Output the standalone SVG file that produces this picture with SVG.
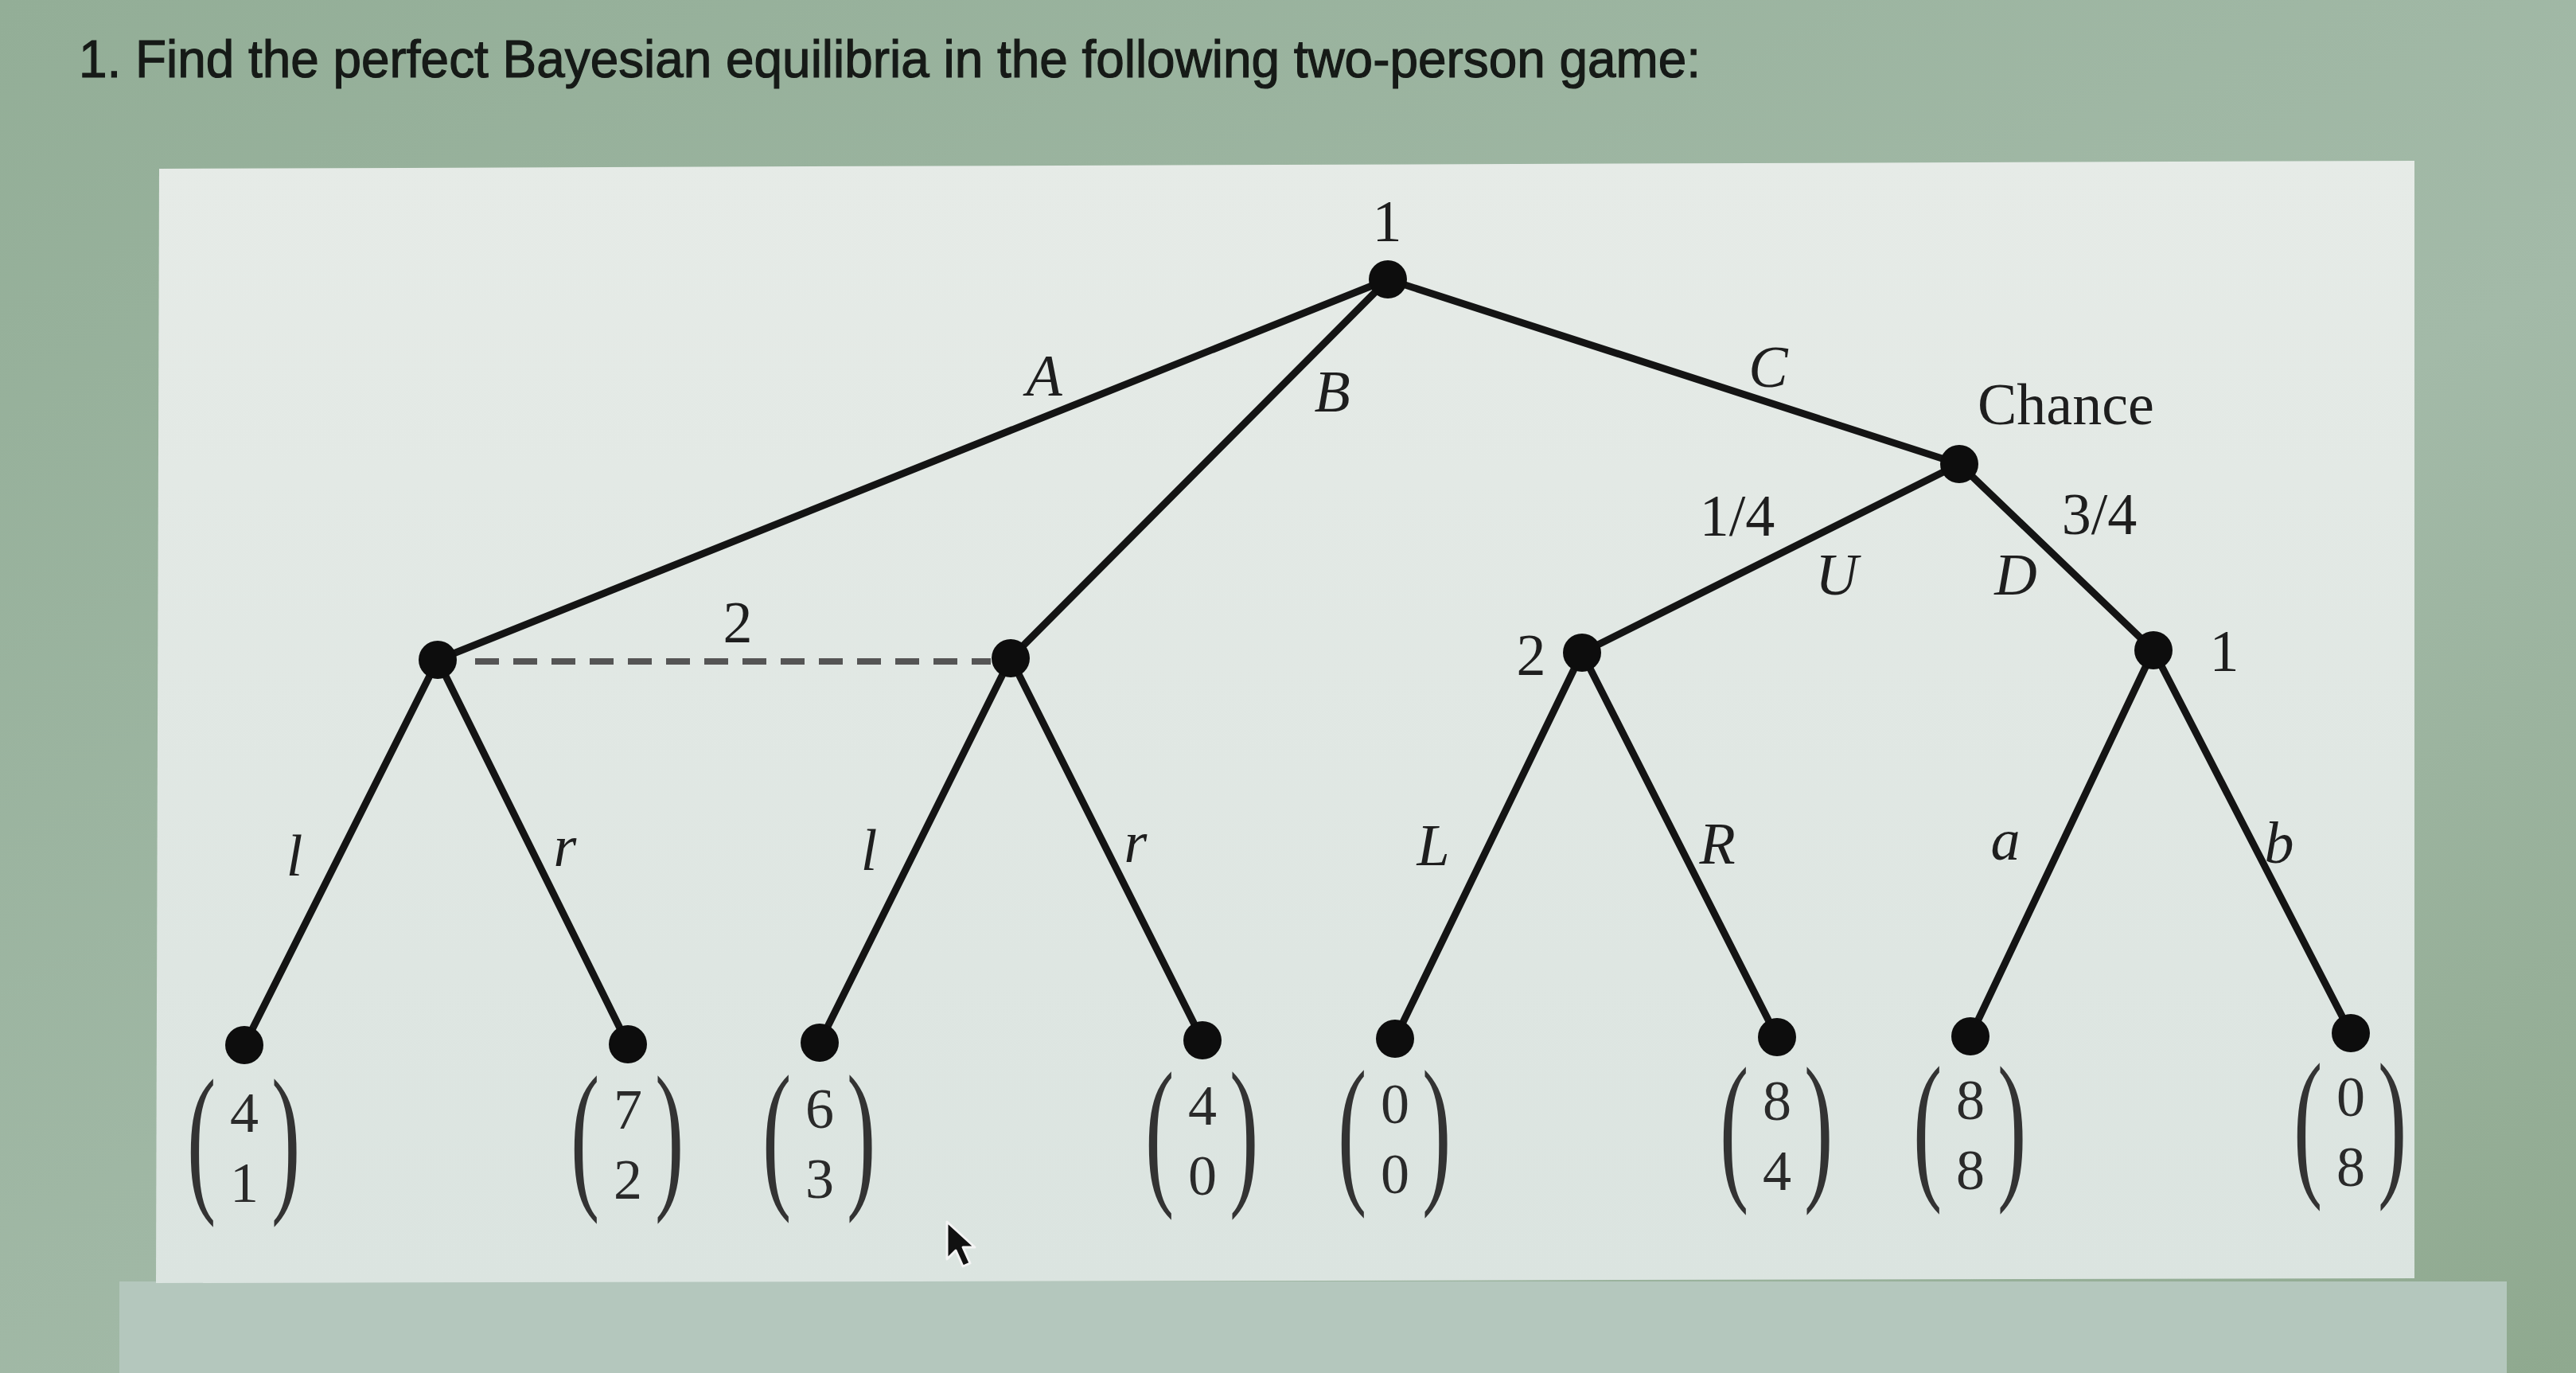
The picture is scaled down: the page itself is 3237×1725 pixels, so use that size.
<svg xmlns="http://www.w3.org/2000/svg" width="3237" height="1725" viewBox="0 0 3237 1725">
<defs>
<linearGradient id="bg" x1="0" y1="0" x2="1" y2="1">
<stop offset="0" stop-color="#93ae97"/>
<stop offset="0.6" stop-color="#a3baa8"/>
<stop offset="1" stop-color="#8fa98f"/>
</linearGradient>
<linearGradient id="panel" x1="0" y1="0" x2="0" y2="1">
<stop offset="0" stop-color="#e6ebe7"/>
<stop offset="1" stop-color="#dbe4e0"/>
</linearGradient>
<style>
.edge{stroke:#141414;stroke-width:9;stroke-linecap:round;fill:none}
.info{stroke:#555;stroke-width:8;stroke-dasharray:30 18;fill:none}
.node{fill:#0d0d0d}
.lbl{font-family:"Liberation Serif","Times New Roman",serif;font-size:74px;fill:#1e1e1e;text-anchor:middle}
.it{font-style:italic}
.num{font-family:"Liberation Serif","Times New Roman",serif;font-size:72px;fill:#2a2a2a;text-anchor:middle}
.par{font-family:"Liberation Serif","Times New Roman",serif;font-size:104px;fill:#333}
.title{font-family:"Liberation Sans",Arial,sans-serif;font-size:66px;fill:#161a17;stroke:#161a17;stroke-width:1.2}
</style>
</defs>
<rect x="0" y="0" width="3237" height="1725" fill="url(#bg)"/>
<rect x="150" y="1610" width="3000" height="115" fill="#b4c7bd"/>
<polygon points="200,212 3034,202 3034,1606 196,1612" fill="url(#panel)"/>
<text class="title" x="99" y="97" textLength="2038" lengthAdjust="spacingAndGlyphs">1. Find the perfect Bayesian equilibria in the following two-person game:</text>

<g id="connectors">
<line class="edge" x1="1744" y1="351" x2="550" y2="829"/>
<line class="edge" x1="1744" y1="351" x2="1270" y2="827"/>
<line class="edge" x1="1744" y1="351" x2="2462" y2="583"/>
<line class="edge" x1="2462" y1="583" x2="1988" y2="820"/>
<line class="edge" x1="2462" y1="583" x2="2706" y2="817"/>
<line class="edge" x1="550" y1="829" x2="307" y2="1313"/>
<line class="edge" x1="550" y1="829" x2="789" y2="1312"/>
<line class="edge" x1="1270" y1="827" x2="1030" y2="1310"/>
<line class="edge" x1="1270" y1="827" x2="1511" y2="1307"/>
<line class="edge" x1="1988" y1="820" x2="1753" y2="1305"/>
<line class="edge" x1="1988" y1="820" x2="2233" y2="1303"/>
<line class="edge" x1="2706" y1="817" x2="2476" y2="1302"/>
<line class="edge" x1="2706" y1="817" x2="2954" y2="1298"/>
<line class="info" x1="597" y1="831" x2="1245" y2="831"/>
<text class="lbl it" x="1312" y="497">A</text>
<text class="lbl it" x="1674" y="517">B</text>
<text class="lbl it" x="2222" y="486">C</text>
<text class="lbl" x="2183" y="673">1/4</text>
<text class="lbl" x="2638" y="671">3/4</text>
<text class="lbl it" x="2308" y="747">U</text>
<text class="lbl it" x="2533" y="747">D</text>
<text class="lbl it" x="370" y="1100">l</text>
<text class="lbl it" x="710" y="1088">r</text>
<text class="lbl it" x="1092" y="1093">l</text>
<text class="lbl it" x="1427" y="1083">r</text>
<text class="lbl it" x="1801" y="1087">L</text>
<text class="lbl it" x="2158" y="1085">R</text>
<text class="lbl it" x="2520" y="1080">a</text>
<text class="lbl it" x="2864" y="1084">b</text>
</g>

<g id="root"><circle class="node" cx="1744" cy="351" r="24"/><text class="lbl" x="1743" y="303">1</text></g>
<g id="nodeA"><circle class="node" cx="550" cy="829" r="24"/></g>
<g id="nodeB"><circle class="node" cx="1270" cy="827" r="24"/></g>
<g id="infoset-label"><text class="lbl" x="927" y="807">2</text></g>
<g id="chance"><circle class="node" cx="2462" cy="583" r="24"/><text class="lbl" x="2485" y="533" style="text-anchor:start">Chance</text></g>
<g id="nodeU"><circle class="node" cx="1988" cy="820" r="24"/><text class="lbl" x="1924" y="848">2</text></g>
<g id="nodeD"><circle class="node" cx="2706" cy="817" r="24"/><text class="lbl" x="2795" y="843">1</text></g>

<g id="leaf1"><circle class="node" cx="307" cy="1313" r="24"/>
<text class="par" transform="translate(235,1498) scale(1.05,1.98)">(</text><text class="par" transform="translate(341,1498) scale(1.05,1.98)">)</text>
<text class="num" x="307" y="1422">4</text><text class="num" x="307" y="1510">1</text></g>
<g id="leaf2"><circle class="node" cx="789" cy="1312" r="24"/>
<text class="par" transform="translate(717,1494) scale(1.05,1.98)">(</text><text class="par" transform="translate(823,1494) scale(1.05,1.98)">)</text>
<text class="num" x="789" y="1418">7</text><text class="num" x="789" y="1506">2</text></g>
<g id="leaf3"><circle class="node" cx="1030" cy="1310" r="24"/>
<text class="par" transform="translate(958,1493) scale(1.05,1.98)">(</text><text class="par" transform="translate(1064,1493) scale(1.05,1.98)">)</text>
<text class="num" x="1030" y="1417">6</text><text class="num" x="1030" y="1505">3</text></g>
<g id="leaf4"><circle class="node" cx="1511" cy="1307" r="24"/>
<text class="par" transform="translate(1439,1489) scale(1.05,1.98)">(</text><text class="par" transform="translate(1545,1489) scale(1.05,1.98)">)</text>
<text class="num" x="1511" y="1413">4</text><text class="num" x="1511" y="1501">0</text></g>
<g id="leaf5"><circle class="node" cx="1753" cy="1305" r="24"/>
<text class="par" transform="translate(1681,1487) scale(1.05,1.98)">(</text><text class="par" transform="translate(1787,1487) scale(1.05,1.98)">)</text>
<text class="num" x="1753" y="1411">0</text><text class="num" x="1753" y="1499">0</text></g>
<g id="leaf6"><circle class="node" cx="2233" cy="1303" r="24"/>
<text class="par" transform="translate(2161,1483) scale(1.05,1.98)">(</text><text class="par" transform="translate(2267,1483) scale(1.05,1.98)">)</text>
<text class="num" x="2233" y="1407">8</text><text class="num" x="2233" y="1495">4</text></g>
<g id="leaf7"><circle class="node" cx="2476" cy="1302" r="24"/>
<text class="par" transform="translate(2404,1482) scale(1.05,1.98)">(</text><text class="par" transform="translate(2510,1482) scale(1.05,1.98)">)</text>
<text class="num" x="2476" y="1406">8</text><text class="num" x="2476" y="1494">8</text></g>
<g id="leaf8"><circle class="node" cx="2954" cy="1298" r="24"/>
<text class="par" transform="translate(2882,1478) scale(1.05,1.98)">(</text><text class="par" transform="translate(2988,1478) scale(1.05,1.98)">)</text>
<text class="num" x="2954" y="1402">0</text><text class="num" x="2954" y="1490">8</text></g>

<path d="M1190,1535 L1190,1582 L1201,1571 L1210,1591 L1219,1587 L1210,1567 L1225,1567 Z" fill="#111" stroke="#f4f4f4" stroke-width="3" stroke-linejoin="round"/>
</svg>
